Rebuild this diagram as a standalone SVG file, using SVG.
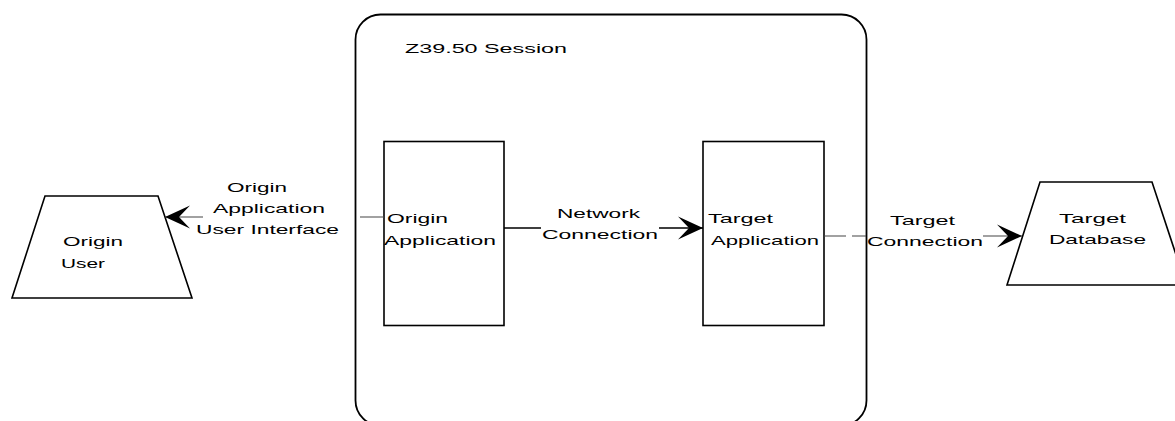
<svg xmlns="http://www.w3.org/2000/svg" width="1175" height="421" viewBox="0 0 1175 421">
  <style>
    text { font-family: "Liberation Sans", Arial, sans-serif; font-size: 13.5px; fill: #000; }
    .box { fill: #fff; stroke: #000; stroke-width: 1.6; }
    .session { fill: none; stroke: #000; stroke-width: 1.8; }
    .conn { fill: none; stroke: #000; stroke-width: 1.5; }
    .thin { fill: none; stroke: #444; stroke-width: 1.1; }
    .dash { stroke-dasharray: 22 6; }
  </style>
  <defs>
    <marker id="stealth" markerUnits="userSpaceOnUse" markerWidth="30" markerHeight="28" viewBox="-27 -14 30 28" refX="0" refY="0" orient="auto">
      <path d="M0,0 L-25,-11.5 L-14,0 L-25,11.5 Z" fill="#000"/>
    </marker>
  </defs>

  <!-- session boundary -->
  <g id="session">
    <rect class="session" x="355.5" y="14.5" width="511" height="411" rx="25" ry="25"/>
    <text x="405" y="53" textLength="162" lengthAdjust="spacingAndGlyphs">Z39.50 Session</text>
  </g>

  <g id="origin-user">
    <polygon class="box" points="45,196 158,196 192,298 12,298"/>
    <text x="63" y="246" textLength="60" lengthAdjust="spacingAndGlyphs">Origin</text>
    <text x="61" y="268" textLength="44" lengthAdjust="spacingAndGlyphs">User</text>
  </g>

  <g id="origin-application">
    <rect class="box" x="384" y="141.5" width="120" height="184"/>
    <text x="387" y="223" textLength="61" lengthAdjust="spacingAndGlyphs">Origin</text>
    <text x="384" y="245" textLength="112" lengthAdjust="spacingAndGlyphs">Application</text>
  </g>

  <g id="target-application">
    <rect class="box" x="703" y="141.5" width="121" height="184"/>
    <text x="708" y="223" textLength="65" lengthAdjust="spacingAndGlyphs">Target</text>
    <text x="711" y="245" textLength="108" lengthAdjust="spacingAndGlyphs">Application</text>
  </g>

  <g id="target-database">
    <polygon class="box" points="1040,182 1152,182 1186,285 1007,285"/>
    <text x="1059" y="223" textLength="67" lengthAdjust="spacingAndGlyphs">Target</text>
    <text x="1049" y="244" textLength="97" lengthAdjust="spacingAndGlyphs">Database</text>
  </g>

  <g id="connectors">
    <!-- user interface: application to user -->
    <path class="thin" d="M384,217 H360 M203,217 H165" marker-end="url(#stealth)"/>
    <text x="227" y="191.5" textLength="60" lengthAdjust="spacingAndGlyphs">Origin</text>
    <text x="213" y="212.5" textLength="112" lengthAdjust="spacingAndGlyphs">Application</text>
    <text x="196" y="233.5" textLength="143" lengthAdjust="spacingAndGlyphs">User Interface</text>

    <!-- network connection -->
    <path class="conn" d="M504,228 H541 M659,228 H703" marker-end="url(#stealth)"/>
    <text x="557" y="218" textLength="83" lengthAdjust="spacingAndGlyphs">Network</text>
    <text x="542" y="239" textLength="116" lengthAdjust="spacingAndGlyphs">Connection</text>

    <!-- target connection -->
    <path class="thin dash" d="M824,236 H866"/>
    <path class="thin" d="M983,236 H1022" marker-end="url(#stealth)"/>
    <text x="890" y="225" textLength="65" lengthAdjust="spacingAndGlyphs">Target</text>
    <text x="867" y="246" textLength="116" lengthAdjust="spacingAndGlyphs">Connection</text>
  </g>
</svg>
